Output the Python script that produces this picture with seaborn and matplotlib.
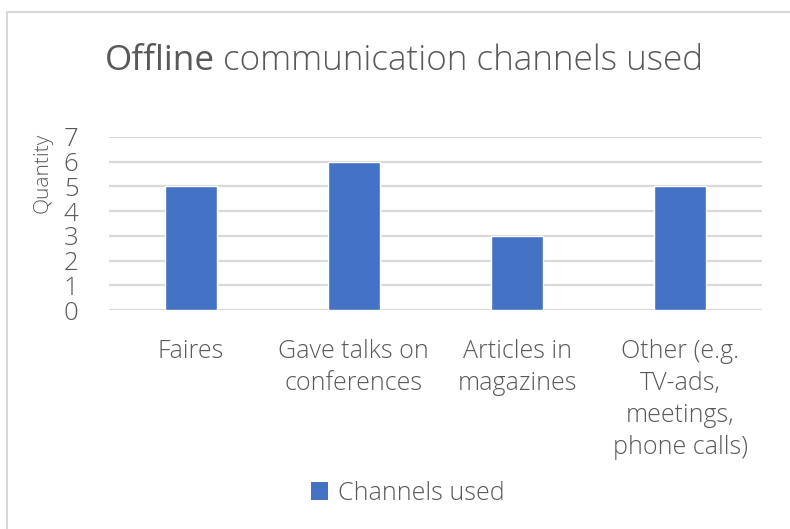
import matplotlib
matplotlib.use("Agg")
import matplotlib.pyplot as plt
from matplotlib.patches import Patch
from matplotlib.lines import Line2D
import seaborn as sns
import pandas as pd

categories = ["Faires", "Gave talks on\nconferences", "Articles in\nmagazines",
              "Other (e.g.\nTV-ads,\nmeetings,\nphone calls)"]
quantities = [5, 6, 3, 5]
y_ticks = [0, 1, 2, 3, 4, 5, 6, 7]
series_name = "Channels used"

BAR = "#4472C4"
TEXT = "#595959"
GRID = "#D9D9D9"
FONT = "Open Sans"

sns.set_style("white")
plt.rcParams["font.family"] = [FONT, "DejaVu Sans"]

df = pd.DataFrame({"category": categories, "quantity": quantities})

W, H = 790, 529
fig = plt.figure(figsize=(W / 100, H / 100), dpi=100)
ax = fig.add_axes([109 / W, 1 - 310 / H, (762 - 109) / W, (310 - 137) / H])

sns.barplot(data=df, x="category", y="quantity", color=BAR, width=0.32,
            saturation=1, ax=ax, zorder=3)

ax.set_ylim(0, 7)
ax.set_xlim(-0.5, len(categories) - 0.5)
ax.set_yticks(y_ticks)
ax.set_yticklabels([str(t) for t in y_ticks])
for s in ax.spines.values():
    s.set_visible(False)
ax.grid(axis="y", color=GRID, linewidth=1.6, zorder=0)
ax.grid(axis="x", visible=False)
ax.tick_params(axis="y", length=0, pad=22, labelsize=18.5, labelcolor=TEXT)
ax.tick_params(axis="x", length=0, pad=21, labelsize=18, labelcolor=TEXT)
for lbl in ax.get_xticklabels() + ax.get_yticklabels():
    lbl.set_fontweight("light")
for lbl in ax.get_xticklabels():
    lbl.set_linespacing(1.36)
ax.set_xlabel("")
ax.set_ylabel("")

fig.text(43 / W, 1 - 173 / H, "Quantity", rotation=90, ha="center", va="center",
         fontsize=15, color=TEXT, fontweight="light")

# Title: first word in regular weight, remainder in light weight
t1 = fig.text(105 / W, 1 - 70 / H, "Offline", ha="left", va="baseline",
              fontsize=25.3, color=TEXT, fontweight="normal")
fig.canvas.draw()
bb = t1.get_window_extent()
fig.text((bb.x1 + 8) / W, 1 - 70 / H, "communication channels used", ha="left",
         va="baseline", fontsize=25.3, color=TEXT, fontweight="light")

handle = Patch(facecolor=BAR, edgecolor="none")
leg = fig.legend([handle], [series_name], loc="center",
                 bbox_to_anchor=(408 / W, 1 - 493 / H), frameon=False,
                 prop={"size": 18, "weight": "light"}, labelcolor=TEXT,
                 handlelength=0.7, handleheight=0.7, handletextpad=0.4)

# Chart-area border (left and top edges)
fig.add_artist(Line2D([7 / W, 7 / W], [0, 1 - 12 / H], color=GRID, linewidth=1.5,
                      transform=fig.transFigure))
fig.add_artist(Line2D([7 / W, 1], [1 - 12 / H, 1 - 12 / H], color=GRID, linewidth=1.5,
                      transform=fig.transFigure))

fig.savefig("out.png", dpi=100, facecolor="white")
